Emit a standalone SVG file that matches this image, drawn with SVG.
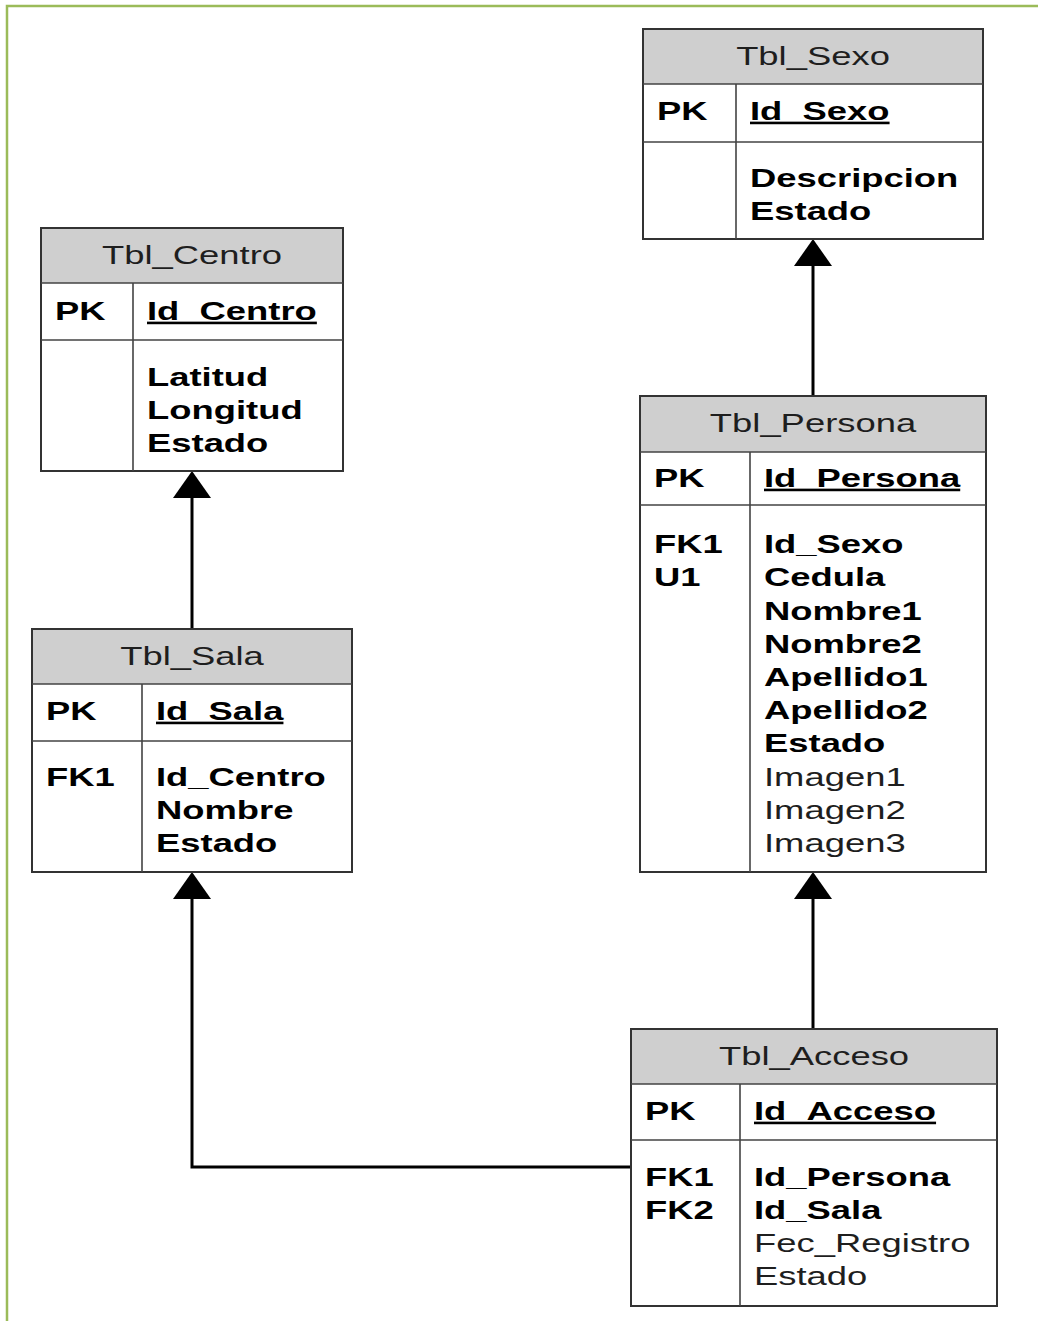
<svg xmlns="http://www.w3.org/2000/svg" width="1038" height="1321" viewBox="0 0 1038 1321">
<style>
.frame{fill:none;stroke:#9bbb59;stroke-width:2.5}
.box{fill:#fff;stroke:#333;stroke-width:2}
.hdr{fill:#cfcfcf;stroke:none}
.sep{stroke:#444;stroke-width:1.6;fill:none}
.t{font-family:"Liberation Sans",Arial,sans-serif;font-size:26px}
.h{fill:#1e1e1e}
.b{font-weight:bold;fill:#000}
.r{fill:#1e1e1e}
.u{text-decoration:underline}
.con{fill:none;stroke:#000;stroke-width:3}
</style>
<defs>
<marker id="arr" markerUnits="userSpaceOnUse" markerWidth="30" markerHeight="40" viewBox="0 -20 28 40" refX="0" refY="0" orient="auto">
<path d="M0,-19 L27,0 L0,19 Z" fill="#000"/>
</marker>
</defs>
<path class="frame" d="M7,1321 L7,6 L1038,6"/>

<g id="connectors">
<path class="con" d="M813,396 L813,266" marker-end="url(#arr)"/>
<path class="con" d="M192,629 L192,498" marker-end="url(#arr)"/>
<path class="con" d="M813,1029 L813,899" marker-end="url(#arr)"/>
<path class="con" d="M631,1167 L192,1167 L192,899" marker-end="url(#arr)"/>
</g>

<g id="tbl_sexo">
<rect class="box" x="643" y="29" width="340" height="210"/>
<rect class="hdr" x="644" y="30" width="338" height="54"/>
<path class="sep" d="M643,84 H983 M643,142 H983 M736,84 V239"/>
<g class="t" transform="translate(813,0) scale(1.4,1)"><text class="h" x="0" y="65" text-anchor="middle">Tbl_Sexo</text></g>
<g class="t b" transform="translate(657,0) scale(1.4,1)"><text x="0" y="120">PK</text></g>
<g class="t b" transform="translate(750,0) scale(1.4,1)">
<text class="u" x="0" y="120">Id_Sexo</text>
<text x="0" y="187">Descripcion</text>
<text x="0" y="220">Estado</text>
</g>
</g>

<g id="tbl_centro">
<rect class="box" x="41" y="228" width="302" height="243"/>
<rect class="hdr" x="42" y="229" width="300" height="54"/>
<path class="sep" d="M41,283 H343 M41,340 H343 M133,283 V471"/>
<g class="t" transform="translate(192,0) scale(1.4,1)"><text class="h" x="0" y="264" text-anchor="middle">Tbl_Centro</text></g>
<g class="t b" transform="translate(55,0) scale(1.4,1)"><text x="0" y="320">PK</text></g>
<g class="t b" transform="translate(147,0) scale(1.4,1)">
<text class="u" x="0" y="320">Id_Centro</text>
<text x="0" y="386">Latitud</text>
<text x="0" y="419">Longitud</text>
<text x="0" y="452">Estado</text>
</g>
</g>

<g id="tbl_sala">
<rect class="box" x="32" y="629" width="320" height="243"/>
<rect class="hdr" x="33" y="630" width="318" height="54"/>
<path class="sep" d="M32,684 H352 M32,741 H352 M142,684 V872"/>
<g class="t" transform="translate(192,0) scale(1.4,1)"><text class="h" x="0" y="665" text-anchor="middle">Tbl_Sala</text></g>
<g class="t b" transform="translate(46,0) scale(1.4,1)">
<text x="0" y="720">PK</text>
<text x="0" y="786">FK1</text>
</g>
<g class="t b" transform="translate(156,0) scale(1.4,1)">
<text class="u" x="0" y="720">Id_Sala</text>
<text x="0" y="786">Id_Centro</text>
<text x="0" y="819">Nombre</text>
<text x="0" y="852">Estado</text>
</g>
</g>

<g id="tbl_persona">
<rect class="box" x="640" y="396" width="346" height="476"/>
<rect class="hdr" x="641" y="397" width="344" height="55"/>
<path class="sep" d="M640,452 H986 M640,505 H986 M750,452 V872"/>
<g class="t" transform="translate(813,0) scale(1.4,1)"><text class="h" x="0" y="432" text-anchor="middle">Tbl_Persona</text></g>
<g class="t b" transform="translate(654,0) scale(1.4,1)">
<text x="0" y="487">PK</text>
<text x="0" y="553">FK1</text>
<text x="0" y="586">U1</text>
</g>
<g class="t" transform="translate(764,0) scale(1.4,1)">
<text class="b u" x="0" y="487">Id_Persona</text>
<text class="b" x="0" y="553">Id_Sexo</text>
<text class="b" x="0" y="586">Cedula</text>
<text class="b" x="0" y="620">Nombre1</text>
<text class="b" x="0" y="653">Nombre2</text>
<text class="b" x="0" y="686">Apellido1</text>
<text class="b" x="0" y="719">Apellido2</text>
<text class="b" x="0" y="752">Estado</text>
<text class="r" x="0" y="786">Imagen1</text>
<text class="r" x="0" y="819">Imagen2</text>
<text class="r" x="0" y="852">Imagen3</text>
</g>
</g>

<g id="tbl_acceso">
<rect class="box" x="631" y="1029" width="366" height="277"/>
<rect class="hdr" x="632" y="1030" width="364" height="54"/>
<path class="sep" d="M631,1084 H997 M631,1140 H997 M740,1084 V1306"/>
<g class="t" transform="translate(814,0) scale(1.4,1)"><text class="h" x="0" y="1065" text-anchor="middle">Tbl_Acceso</text></g>
<g class="t b" transform="translate(645,0) scale(1.4,1)">
<text x="0" y="1120">PK</text>
<text x="0" y="1186">FK1</text>
<text x="0" y="1219">FK2</text>
</g>
<g class="t" transform="translate(754,0) scale(1.4,1)">
<text class="b u" x="0" y="1120">Id_Acceso</text>
<text class="b" x="0" y="1186">Id_Persona</text>
<text class="b" x="0" y="1219">Id_Sala</text>
<text class="r" x="0" y="1252">Fec_Registro</text>
<text class="r" x="0" y="1285">Estado</text>
</g>
</g>
</svg>
